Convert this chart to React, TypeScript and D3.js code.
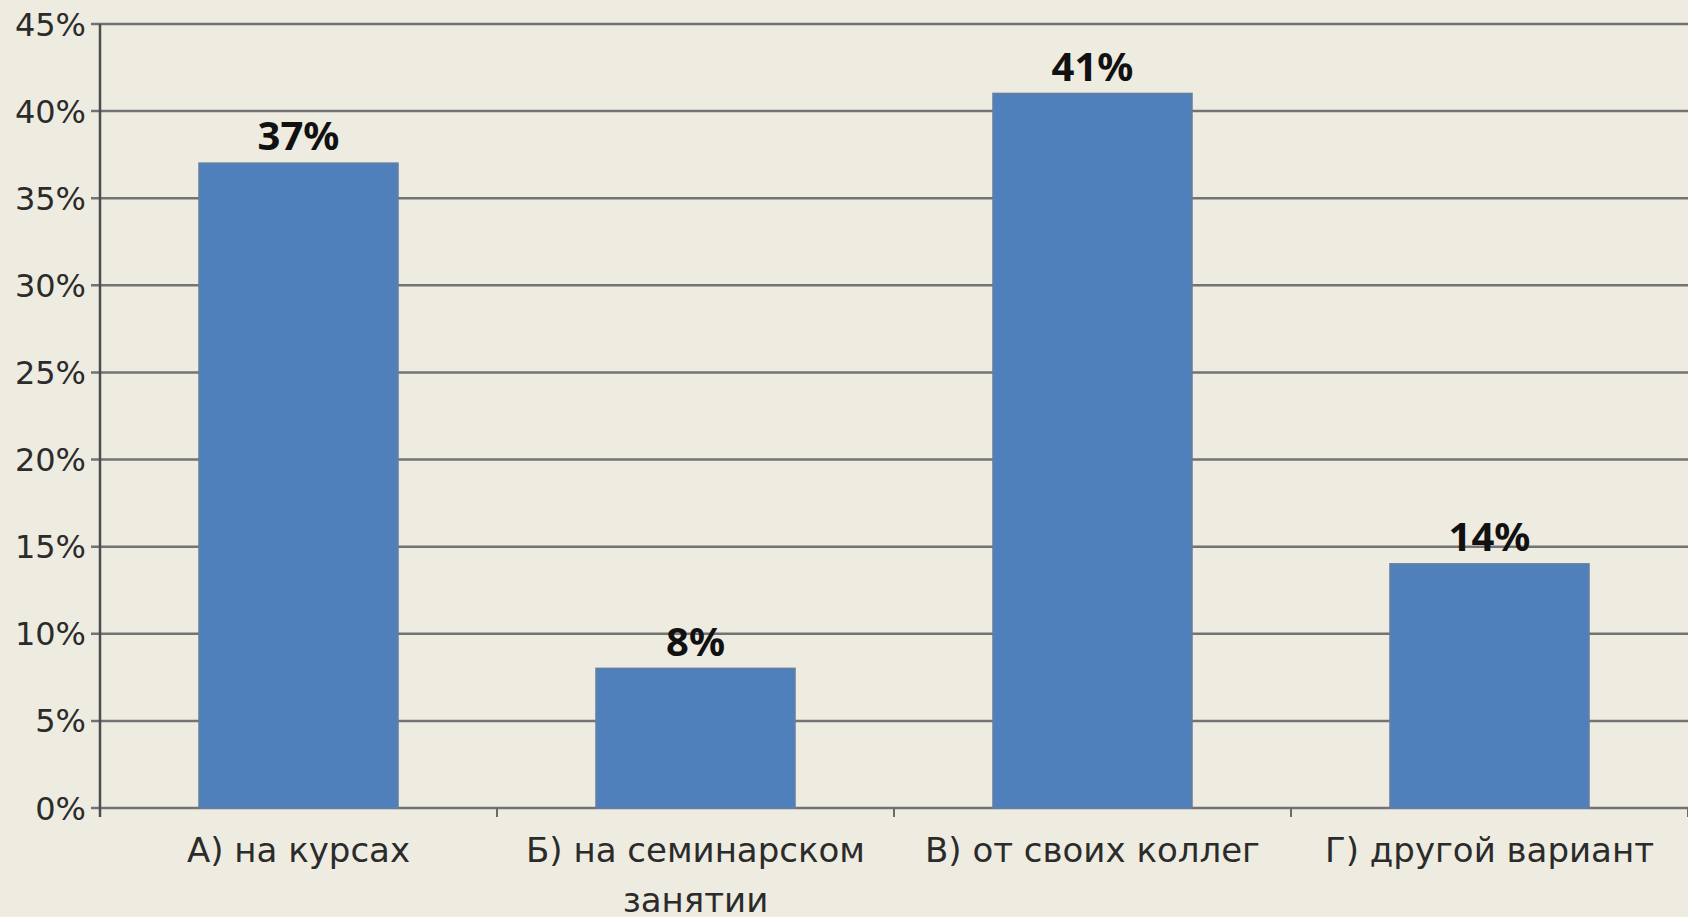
import React from 'react';
import * as d3 from 'd3';

// survey answers, share of respondents
const categories = ['А) на курсах', 'Б) на семинарском занятии', 'В) от своих коллег', 'Г) другой вариант'];
const values = [0.37, 0.08, 0.41, 0.14];
const valueLabels = ['37%', '8%', '41%', '14%'];
const yTicks = [0, 0.05, 0.1, 0.15, 0.2, 0.25, 0.3, 0.35, 0.4, 0.45];
// how each category label breaks into lines
const labelLines = [['А) на курсах'], ['Б) на семинарском', 'занятии'], ['В) от своих коллег'], ['Г) другой вариант']];

const width = 1688;
const height = 917;
const margin = { top: 24, right: 0, bottom: 109, left: 100 };

const App = () => {
  const x = d3.scaleBand<string>()
    .domain(categories)
    .range([margin.left, width - margin.right])
    .paddingInner(0.5)
    .paddingOuter(0.25);

  const y = d3.scaleLinear()
    .domain([0, 0.45])
    .range([height - margin.bottom, margin.top]);

  const fmt = d3.format('.0%');
  const step = x.step();
  const axisFont = '"DejaVu Sans", "Noto Sans", sans-serif';
  const boldFont = '"Noto Sans", "Open Sans", sans-serif';

  return (
    <svg width={width} height={height} style={{ position: 'absolute', left: 0, top: 0, background: '#eeebe0' }}>
      <rect x={0} y={0} width={width} height={height} fill="#eeebe0" />

      {/* gridlines + y ticks */}
      {yTicks.map(t => (
        <g key={t}>
          <line x1={margin.left - 9} x2={width} y1={y(t)} y2={y(t)} stroke="#737373" strokeWidth={2.5} />
          <text x={margin.left - 14} y={y(t)} dy="0.36em" textAnchor="end"
            fontFamily={axisFont} fontSize={32} fill="#2b2b2b">{fmt(t)}</text>
        </g>
      ))}

      {/* y axis */}
      <line x1={margin.left} x2={margin.left} y1={y(0.45)} y2={y(0) + 9} stroke="#4d4d4d" strokeWidth={2.5} />

      {/* category ticks */}
      {categories.map((c, i) => (
        <line key={c} x1={margin.left + step * (i + 1)} x2={margin.left + step * (i + 1)}
          y1={y(0)} y2={y(0) + 9} stroke="#6b6b6b" strokeWidth={2} />
      ))}

      {/* bars */}
      {categories.map((c, i) => (
        <rect key={c} x={x(c)} y={y(values[i])} width={x.bandwidth()} height={y(0) - y(values[i])}
          fill="#4f80bb" stroke="#5f7fa6" strokeWidth={2} />
      ))}

      {/* value labels */}
      {categories.map((c, i) => (
        <text key={c} x={(x(c) as number) + x.bandwidth() / 2} y={y(values[i]) - 13}
          textAnchor="middle" fontFamily={boldFont} fontWeight="bold" fontSize={40} fill="#111">
          {valueLabels[i]}
        </text>
      ))}

      {/* category labels */}
      {categories.map((c, i) => (
        <text key={c} x={(x(c) as number) + x.bandwidth() / 2} y={y(0) + 54}
          textAnchor="middle" fontFamily={axisFont} fontSize={34} fill="#2b2b2b">
          {labelLines[i].map((l, j) => (
            <tspan key={j} x={(x(c) as number) + x.bandwidth() / 2} dy={j === 0 ? 0 : 50}>{l}</tspan>
          ))}
        </text>
      ))}
    </svg>
  );
};

export default App;
